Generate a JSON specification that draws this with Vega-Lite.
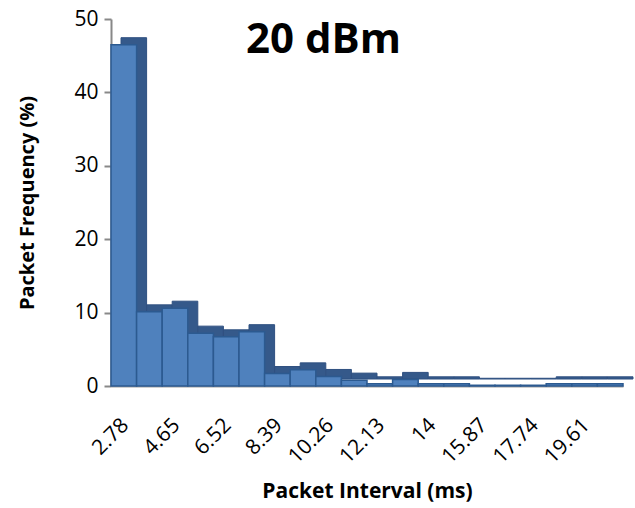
{
  "$schema": "https://vega.github.io/schema/vega-lite/v6.json",
  "autosize": "none",
  "width": 512,
  "height": 367,
  "padding": {"left": 111, "top": 19, "right": 12, "bottom": 122},
  "background": "white",
  "title": {
    "text": "20 dBm",
    "font": "Open Sans",
    "fontSize": 42,
    "fontWeight": "bold",
    "color": "black",
    "anchor": "start",
    "orient": "top",
    "baseline": "top",
    "offset": -54,
    "dx": 228
  },
  "config": {
    "view": {"stroke": null},
    "font": "Open Sans"
  },
  "data": {
    "values": [
      {"interval": "2.78", "freq": 46.5},
      {"interval": "3.715", "freq": 10.1},
      {"interval": "4.65", "freq": 10.6},
      {"interval": "5.585", "freq": 7.2},
      {"interval": "6.52", "freq": 6.7},
      {"interval": "7.455", "freq": 7.4},
      {"interval": "8.39", "freq": 1.7},
      {"interval": "9.325", "freq": 2.2},
      {"interval": "10.26", "freq": 1.3},
      {"interval": "11.195", "freq": 0.8},
      {"interval": "12.13", "freq": 0.3},
      {"interval": "13.065", "freq": 0.9},
      {"interval": "14", "freq": 0.3},
      {"interval": "14.935", "freq": 0.3},
      {"interval": "15.87", "freq": 0.1},
      {"interval": "16.805", "freq": 0.1},
      {"interval": "17.74", "freq": 0.1},
      {"interval": "18.675", "freq": 0.3},
      {"interval": "19.61", "freq": 0.3},
      {"interval": "20.545", "freq": 0.3}
    ]
  },
  "encoding": {
    "x": {
      "field": "interval",
      "type": "ordinal",
      "sort": null,
      "scale": {"paddingInner": 0, "paddingOuter": 0},
      "axis": {
        "title": "Packet Interval (ms)",
        "titleFontSize": 21,
        "titleFontWeight": "bold",
        "titleColor": "black",
        "titlePadding": 14,
        "labelAngle": -45,
        "labelFontSize": 21,
        "labelColor": "black",
        "labelPadding": 28,
        "labelOffset": -6,
        "labelExpr": "indexof(['2.78','4.65','6.52','8.39','10.26','12.13','14','15.87','17.74','19.61'], datum.value) >= 0 ? datum.value : ''",
        "ticks": false,
        "domainColor": "#a0a0a0",
        "domainWidth": 2,
        "labelOverlap": false
      }
    },
    "y": {
      "field": "freq",
      "type": "quantitative",
      "scale": {"domain": [0, 50]},
      "axis": {
        "title": "Packet Frequency (%)",
        "titleFontSize": 20,
        "titleFontWeight": "bold",
        "titleColor": "black",
        "titlePadding": 36,
        "values": [0, 10, 20, 30, 40, 50],
        "labelFontSize": 21,
        "labelColor": "black",
        "labelPadding": 6,
        "tickColor": "#888888",
        "tickSize": 7,
        "tickWidth": 2,
        "domainColor": "#888888",
        "domainWidth": 2,
        "grid": false
      }
    }
  },
  "layer": [
    {
      "mark": {"type": "bar", "color": "#35598a", "xOffset": 10, "yOffset": -7, "stroke": "#2f5080", "strokeWidth": 1}
    },
    {
      "mark": {"type": "bar", "color": "#4f81bd", "stroke": "#2c5a90", "strokeWidth": 1.5}
    }
  ]
}
